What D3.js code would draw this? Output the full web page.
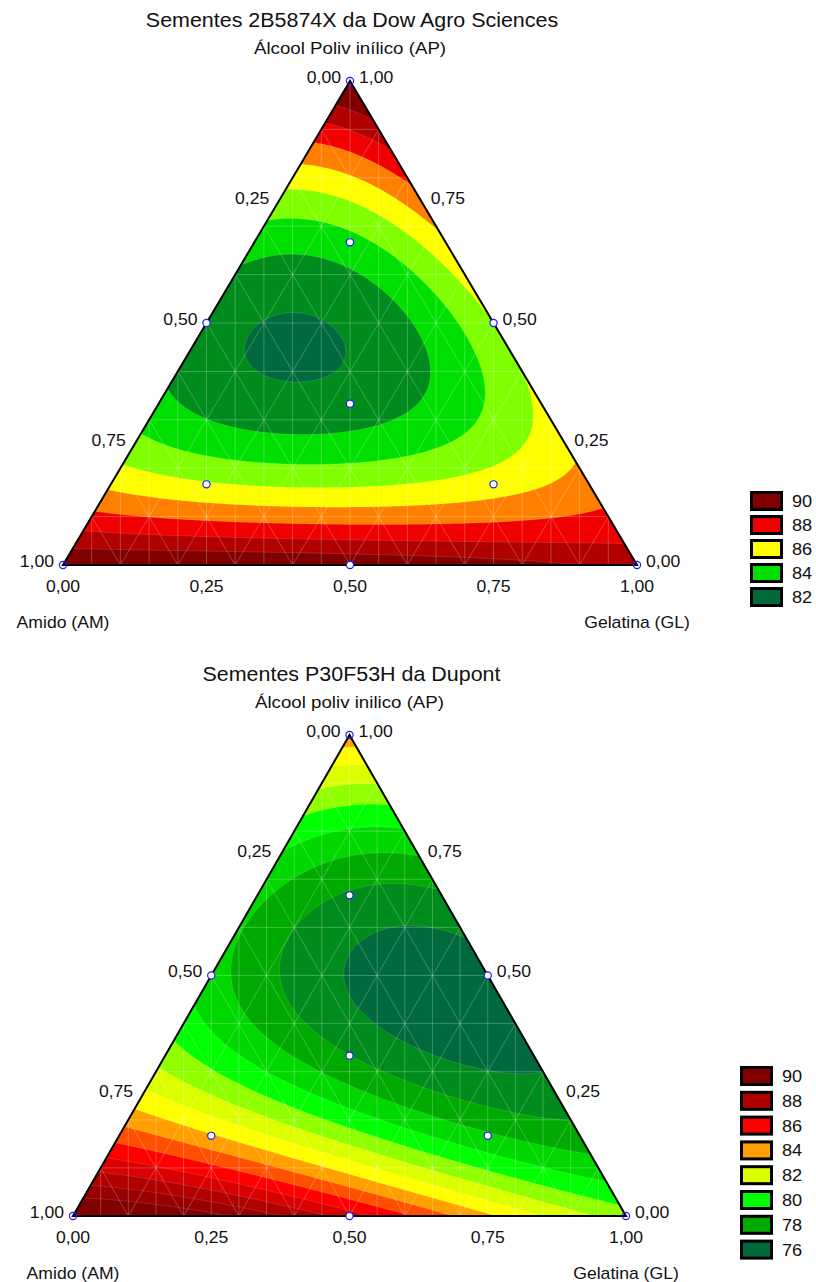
<!DOCTYPE html>
<html lang="pt">
<head>
<meta charset="utf-8">
<title>Superfícies de resposta - misturas AM / GL / AP</title>
<script src="https://cdn.jsdelivr.net/npm/d3@7"></script>
<style>
  body { margin: 0; background: #fff; }
  svg { display: block; }
  text { font-family: "Liberation Sans", Arial, sans-serif; fill: #111; }
</style>
</head>
<body>
<script>
// tick values shared by the three ternary axes
var tickValues = [0, 0.25, 0.5, 0.75, 1];
var tickLabels = ["0,00", "0,25", "0,50", "0,75", "1,00"];

// experimental design (proportions AM, GL, AP)
var designAM = [1, 0, 0, 0.5, 0.5, 0, 1/3, 2/3, 1/6, 1/6];
var designGL = [0, 1, 0, 0.5, 0, 0.5, 1/3, 1/6, 2/3, 1/6];
var designAP = [0, 0, 1, 0, 0.5, 0.5, 1/3, 1/6, 1/6, 2/3];

// chart 1 - Dow Agro Sciences
var dowTitle = "Sementes 2B5874X da Dow  Agro Sciences";
var dowApName = "Álcool Poliv inílico (AP)";
var dowLinear = [90, 88.7, 90.5];       // AM, GL, AP
var dowBinary = [2, -31, -18.4];        // AM·GL, AM·AP, GL·AP
var dowCubic = [0, 0, 0];               // AM·GL(AM-GL), AM·AP(AM-AP), GL·AP(GL-AP)
var dowTernary = -55;                   // AM·GL·AP
var dowLevels = [82, 83, 84, 85, 86, 87, 88, 89];
var dowColors = ["#006a3c", "#008c1c", "#00e000", "#80ff00", "#ffff00",
                 "#ff8000", "#f00000", "#b00000", "#800000"];
var dowLegend = [90, 88, 86, 84, 82];

// chart 2 - Dupont
var dupTitle = "Sementes P30F53H da Dupont";
var dupApName = "Álcool poliv inilico (AP)";
var dupLinear = [90.5, 80.5, 83.7];
var dupBinary = [4, -34.6, -26];
var dupCubic = [6, 0, 0];
var dupTernary = -43;
var dupLevels = [76, 77, 78, 79, 80, 81, 82, 83, 84, 85, 86, 87, 88, 89];
var dupColors = ["#006a3c", "#008c1c", "#00aa00", "#00d800", "#00ff00", "#90ff00",
                 "#dcff00", "#ffff00", "#ffa000", "#ff5000", "#ff0000", "#d80000",
                 "#b00000", "#980000", "#800000"];
var dupLegend = [90, 88, 86, 84, 82, 80, 78, 76];

var amName = "Amido (AM)";
var glName = "Gelatina (GL)";

var svg = d3.select("body").append("svg")
    .attr("width", 816)
    .attr("height", 1282);

svg.append("rect").attr("width", 816).attr("height", 1282).attr("fill", "#fff");

function label(g, x, y, str, size, anchor) {
    return g.append("text")
        .attr("transform", "translate(" + x + "," + y + ") scale(1.1,1)")
        .attr("font-size", size)
        .attr("text-anchor", anchor || "middle")
        .text(str);
}

function drawChart(cfg, id) {
    var g = svg.append("g");
    var xs = d3.scaleLinear().domain([0, 1]).range([cfg.left, cfg.right]);
    var ys = d3.scaleLinear().domain([0, 1]).range([cfg.base, cfg.top]);
    var color = d3.scaleThreshold().domain(cfg.levels).range(cfg.colors);

    // ternary (AM, GL, AP) -> pixel
    function pt(a, gl, p) { return [xs(gl + p / 2), ys(p)]; }

    function model(a, gl, p) {
        var L = cfg.linear, B = cfg.binary, C = cfg.cubic;
        return L[0] * a + L[1] * gl + L[2] * p
            + B[0] * a * gl + B[1] * a * p + B[2] * gl * p
            + C[0] * a * gl * (a - gl) + C[1] * a * p * (a - p) + C[2] * gl * p * (gl - p)
            + cfg.ternary * a * gl * p;
    }

    var tri = [pt(1, 0, 0), pt(0, 1, 0), pt(0, 0, 1)];
    g.append("clipPath").attr("id", "clip" + id)
        .append("polygon").attr("points", tri.join(" "));

    var plot = g.append("g").attr("clip-path", "url(#clip" + id + ")");

    plot.append("polygon").attr("points", tri.join(" ")).attr("fill", cfg.colors[0]);

    // response grid over the bounding box of the triangle
    var nx = 320, ny = 280;
    var values = new Float64Array(nx * ny);
    for (var j = 0; j < ny; j++) {
        for (var i = 0; i < nx; i++) {
            var u = i / (nx - 1);
            var p = 1 - j / (ny - 1);
            var gl = u - p / 2;
            values[j * nx + i] = model(1 - gl - p, gl, p);
        }
    }
    var contours = d3.contours().size([nx, ny]).thresholds(cfg.levels)(values);
    var proj = d3.geoTransform({
        point: function(x, y) {
            this.stream.point(xs((x - 0.5) / (nx - 1)), ys(1 - (y - 0.5) / (ny - 1)));
        }
    });
    var path = d3.geoPath(proj);

    plot.selectAll("path.band")
        .data(contours)
        .enter().append("path")
        .attr("class", "band")
        .attr("d", path)
        .attr("fill", function(d) { return color(d.value); })
        .attr("stroke", "rgba(255,255,255,0.22)")
        .attr("stroke-width", 0.6);

    // faint surface mesh
    var mesh = [];
    for (var k = 1; k < 10; k++) {
        var f = k / 10;
        mesh.push([pt(1 - f, 0, f), pt(0, 1 - f, f)]);
        mesh.push([pt(1 - f, f, 0), pt(0, f, 1 - f)]);
        mesh.push([pt(f, 1 - f, 0), pt(f, 0, 1 - f)]);
    }
    for (var v = 1; v < 20; v++) {
        mesh.push([[xs(v / 20), cfg.base], [xs(v / 20), cfg.top]]);
    }
    plot.selectAll("line.mesh")
        .data(mesh)
        .enter().append("line")
        .attr("x1", function(d) { return d[0][0]; })
        .attr("y1", function(d) { return d[0][1]; })
        .attr("x2", function(d) { return d[1][0]; })
        .attr("y2", function(d) { return d[1][1]; })
        .attr("stroke", "#fff")
        .attr("stroke-opacity", 0.3)
        .attr("stroke-width", 0.8);

    g.append("polygon")
        .attr("points", tri.join(" "))
        .attr("fill", "none")
        .attr("stroke", "#000")
        .attr("stroke-width", 2);

    // design points
    var pts = designAM.map(function(a, i) { return [a, designGL[i], designAP[i]]; });
    g.selectAll("circle.pt")
        .data(pts)
        .enter().append("circle")
        .attr("class", "pt")
        .attr("cx", function(d) { return pt(d[0], d[1], d[2])[0]; })
        .attr("cy", function(d) { return pt(d[0], d[1], d[2])[1]; })
        .attr("r", 3.6)
        .attr("fill", function(d) { return d3.max(d) === 1 ? "none" : "#fff"; })
        .attr("stroke", "#1a1aff")
        .attr("stroke-width", 1.2);

    // axis tick labels
    tickValues.forEach(function(t, i) {
        var l = pt(t, 0, 1 - t);
        label(g, l[0] - 9, l[1] + 1.5, tickLabels[i], 16, "end");
        var r = pt(0, 1 - t, t);
        label(g, r[0] + 9, r[1] + 1.5, tickLabels[i], 16, "start");
        var b = pt(1 - t, t, 0);
        label(g, b[0], cfg.base + 27, tickLabels[i], 16, "middle");
    });

    label(g, cfg.left, cfg.base + 63, amName, 16, "middle");
    label(g, cfg.right, cfg.base + 63, glName, 16, "middle");
    label(g, xs(0.5) + 2, cfg.top - 54, cfg.title, 19.5, "middle");
    label(g, xs(0.5), cfg.top - 27, cfg.apName, 17, "middle");

    // legend
    var lg = g.append("g");
    cfg.legend.forEach(function(lv, i) {
        var y = cfg.legendY + i * cfg.legendStep;
        lg.append("rect")
            .attr("x", cfg.legendX + 1.5).attr("y", y + 1.5)
            .attr("width", 30).attr("height", 17)
            .attr("fill", color(lv - 0.5))
            .attr("stroke", "#000").attr("stroke-width", 3);
        label(lg, cfg.legendX + 42, y + 16, lv, 16.5, "start");
    });
}

drawChart({
    title: dowTitle, apName: dowApName,
    linear: dowLinear, binary: dowBinary, cubic: dowCubic, ternary: dowTernary,
    levels: dowLevels, colors: dowColors, legend: dowLegend,
    left: 63, right: 637, base: 565, top: 81,
    legendX: 750, legendY: 491, legendStep: 24
}, 1);

drawChart({
    title: dupTitle, apName: dupApName,
    linear: dupLinear, binary: dupBinary, cubic: dupCubic, ternary: dupTernary,
    levels: dupLevels, colors: dupColors, legend: dupLegend,
    left: 73, right: 626, base: 1216, top: 735,
    legendX: 740, legendY: 1066, legendStep: 24.8
}, 2);
</script>
</body>
</html>
